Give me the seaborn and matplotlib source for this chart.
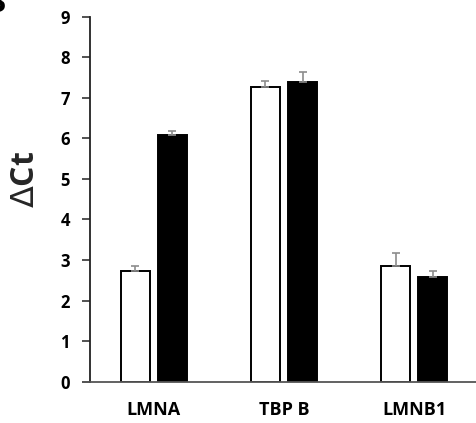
import matplotlib
matplotlib.use("Agg")
import matplotlib.pyplot as plt
import seaborn as sns
import pandas as pd

# Delta-Ct values per gene for the two conditions, with upper error bars
genes = ["LMNA", "TBP B", "LMNB1"]
conditions = ["control", "treated"]
control_ct = [2.73, 7.27, 2.85]
treated_ct = [6.08, 7.39, 2.59]
control_err = [0.13, 0.14, 0.33]
treated_err = [0.09, 0.25, 0.15]
y_ticks = [0, 1, 2, 3, 4, 5, 6, 7, 8, 9]

df = pd.DataFrame({
    "gene": genes * 2,
    "condition": [conditions[0]] * 3 + [conditions[1]] * 3,
    "dct": control_ct + treated_ct,
})
errs = {conditions[0]: control_err, conditions[1]: treated_err}

sns.set_theme(style="white")
plt.rcParams["font.family"] = ["Open Sans", "DejaVu Sans"]

fig = plt.figure(figsize=(4.76, 4.23), dpi=100)
ax = fig.add_axes([90 / 476, 41.3 / 423, 386 / 476, 365 / 423])

sns.barplot(
    data=df, x="gene", y="dct", hue="condition", order=genes,
    hue_order=conditions, palette=["white", "black"], width=0.57, gap=0.22,
    edgecolor="black", linewidth=1.4, errorbar=None, legend=False, ax=ax,
)

# Upward-only error bars placed on the drawn bars
for container, cond in zip(ax.containers, conditions):
    xs = [p.get_x() + p.get_width() / 2 for p in container.patches]
    hs = [p.get_height() for p in container.patches]
    ax.errorbar(xs, hs, yerr=[[0] * len(hs), errs[cond]], fmt="none",
                ecolor="#8c8c8c", elinewidth=1.2, capsize=3, capthick=1.2,
                zorder=1)

ax.set_ylim(0, 9)
ax.set_xlim(-0.49, 2.475)
ax.set_yticks(y_ticks)
ax.set_xlabel("")
ax.set_ylabel(r"$\Delta$Ct", fontsize=23, fontweight="bold")
ax.yaxis.set_label_coords(-0.125, 0.555)

for s in ["top", "right"]:
    ax.spines[s].set_visible(False)
ax.spines["left"].set_color("#222222")
ax.spines["bottom"].set_color("#555555")
ax.spines["left"].set_linewidth(1.3)
ax.spines["bottom"].set_linewidth(1.3)

ax.tick_params(axis="y", which="major", left=True, length=6, width=1.1,
               color="#222222", pad=8.5, labelsize=12)
ax.tick_params(axis="x", which="major", bottom=False, length=0, pad=14,
               labelsize=13)
for lbl in ax.get_xticklabels() + ax.get_yticklabels():
    lbl.set_fontweight("bold")
    lbl.set_color("black")

fig.text(0.012, 1 - 12 / 423, "B", ha="right", va="baseline",
         fontsize=22, fontweight="bold", color="black")

fig.savefig("out.png", dpi=100, facecolor="white")
